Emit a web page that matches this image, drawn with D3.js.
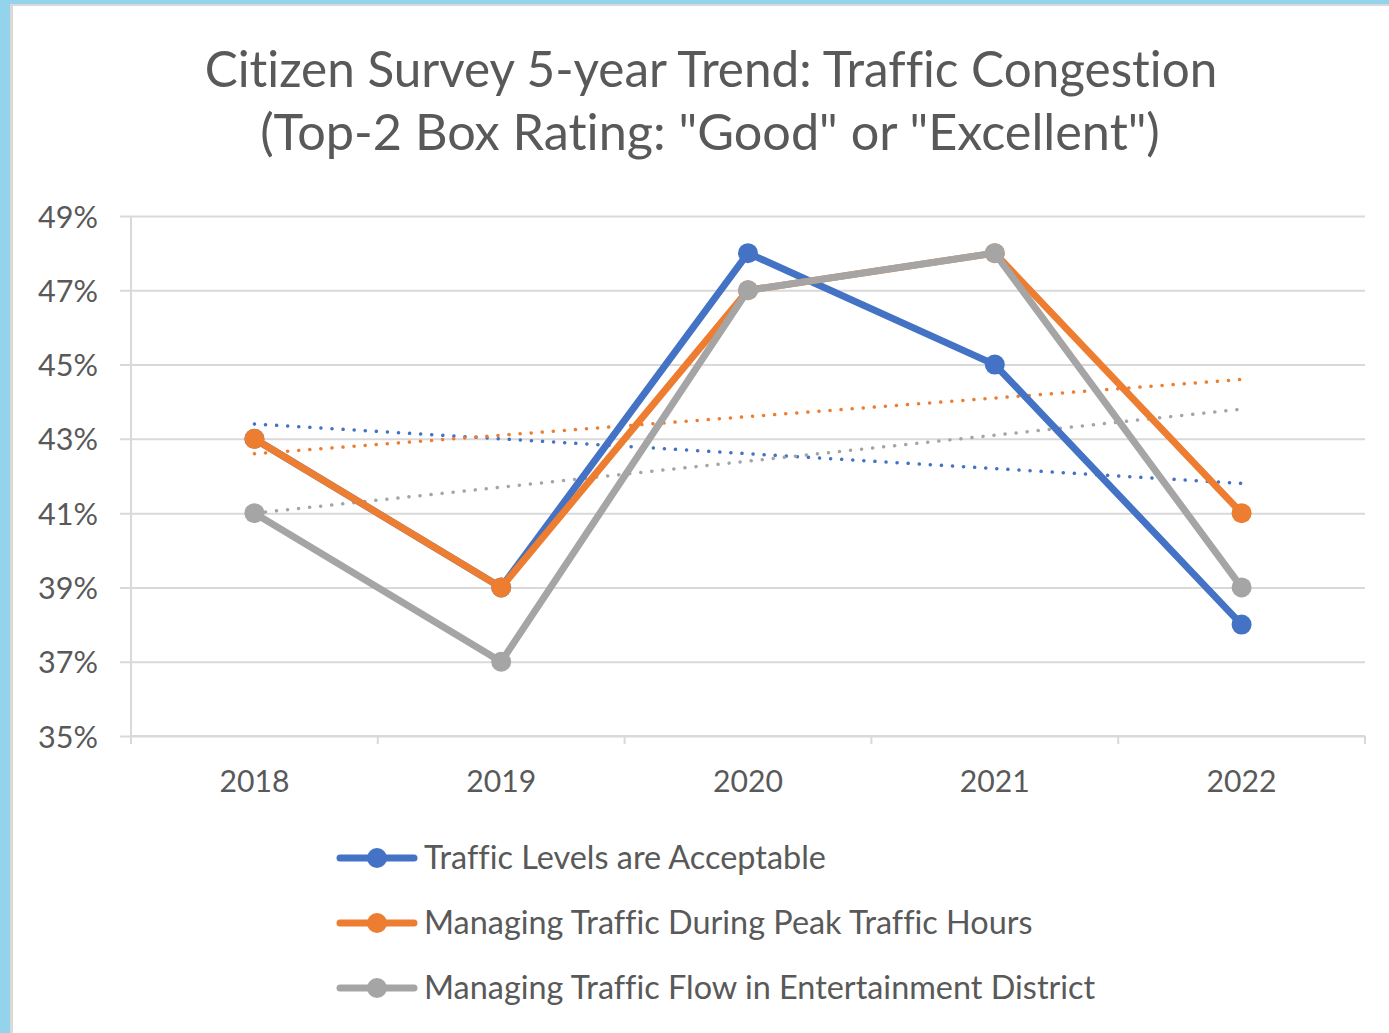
<!DOCTYPE html>
<html>
<head>
<meta charset="utf-8">
<script src="https://cdn.jsdelivr.net/npm/d3@7"></script>
<style>
  body { margin: 0; background: #fff; }
  svg text { font-family: Lato, "Open Sans", sans-serif; fill: #595959; font-variant-ligatures: none; font-feature-settings: "liga" 0; }
</style>
</head>
<body>
<svg width="1389" height="1033"></svg>
<script>
// chart data
const years = ['2018', '2019', '2020', '2021', '2022']
const seriesNames = [
  'Traffic Levels are Acceptable',
  'Managing Traffic During Peak Traffic Hours',
  'Managing Traffic Flow in Entertainment District'
]
const trafficLevels = [43, 39, 48, 45, 38]
const peakHours = [43, 39, 47, 48, 41]
const entertainment = [41, 37, 47, 48, 39]
const yTicks = [35, 37, 39, 41, 43, 45, 47, 49]
const titleLines = [
  'Citizen Survey 5-year Trend: Traffic Congestion',
  '(Top-2 Box Rating: "Good" or "Excellent")'
]

const colors = ['#4472C4', '#ED7D31', '#A5A5A5']
const allSeries = [trafficLevels, peakHours, entertainment]

const svg = d3.select('svg')

// frame
svg.append('rect').attr('width', 1389).attr('height', 1033).attr('fill', '#94D3EC')
svg.append('rect').attr('x', 10).attr('y', 4).attr('width', 1379).attr('height', 1029).attr('fill', '#d9d9d9')
svg.append('rect').attr('x', 13).attr('y', 6).attr('width', 1376).attr('height', 1027).attr('fill', '#fff')

const plotLeft = 131, plotRight = 1365, plotTop = 216, plotBottom = 736

const x = d3.scaleBand().domain(years).range([plotLeft, plotRight])
const y = d3.scaleLinear().domain([35, 49]).range([plotBottom, plotTop])

// shrink/grow font so the text is the width we want
function fitWidth(sel, target) {
  const node = sel.node()
  const fs = parseFloat(sel.attr('font-size'))
  const w = node.getComputedTextLength()
  sel.attr('font-size', fs * target / w)
  return fs * target / w
}

// title
const t1 = svg.append('text').attr('x', 711).attr('y', 87).attr('text-anchor', 'middle')
  .attr('font-size', 40).text(titleLines[0])
fitWidth(t1, 1013)
const t2 = svg.append('text').attr('x', 710).attr('y', 150).attr('text-anchor', 'middle')
  .attr('font-size', 40).text(titleLines[1])
fitWidth(t2, 900)

// y axis with gridlines
const yAxis = svg.append('g')
  .attr('transform', `translate(120,0)`)
  .call(d3.axisLeft(y).tickValues(yTicks).tickSize(-(plotRight - 120)).tickPadding(22)
    .tickFormat(d => d + '%'))
yAxis.select('.domain').remove()
yAxis.selectAll('.tick line').attr('stroke', '#d9d9d9').attr('stroke-width', 2)
const yLabels = yAxis.selectAll('.tick text').attr('font-size', 28).attr('dy', 11)
  .style('font-family', 'Lato, sans-serif').attr('fill', '#595959')
const yfs = fitWidth(yAxis.select('.tick:last-of-type text'), 60)
yLabels.attr('font-size', yfs)

// vertical axis line
svg.append('line').attr('x1', plotLeft).attr('x2', plotLeft).attr('y1', plotTop).attr('y2', plotBottom + 8)
  .attr('stroke', '#d9d9d9').attr('stroke-width', 2)

// x axis
const xAxis = svg.append('g')
  .attr('transform', `translate(0,${plotBottom})`)
  .call(d3.axisBottom(x).tickSize(0).tickPadding(0))
xAxis.select('.domain').remove()
const xLabels = xAxis.selectAll('.tick text').attr('y', 56).attr('dy', 0)
  .attr('font-size', 28).style('font-family', 'Lato, sans-serif').attr('fill', '#595959')
const xfs = fitWidth(xAxis.select('.tick text'), 70)
xLabels.attr('font-size', xfs)

svg.append('line').attr('x1', plotLeft).attr('x2', plotRight).attr('y1', plotBottom).attr('y2', plotBottom)
  .attr('stroke', '#d9d9d9').attr('stroke-width', 2)
svg.selectAll('.xtick').data(d3.range(years.length + 1)).enter()
  .append('line')
    .attr('x1', i => plotLeft + i * x.step()).attr('x2', i => plotLeft + i * x.step())
    .attr('y1', plotBottom).attr('y2', plotBottom + 8)
    .attr('stroke', '#d9d9d9').attr('stroke-width', 2)

const cx = d => x(d) + x.bandwidth() / 2

// linear trend (like excel's trendline)
function trend(values) {
  const n = values.length
  const xs = d3.range(n)
  const mx = d3.mean(xs), my = d3.mean(values)
  const slope = d3.sum(xs, i => (i - mx) * (values[i] - my)) / d3.sum(xs, i => (i - mx) ** 2)
  return xs.map(i => my + slope * (i - mx))
}

const line = d3.line().x((d, i) => cx(years[i])).y(d => y(d))

// trendlines
allSeries.forEach((s, k) => {
  svg.append('path')
    .attr('d', line(trend(s)))
    .attr('fill', 'none')
    .attr('stroke', colors[k])
    .attr('stroke-width', 3.5)
    .attr('stroke-linecap', 'round')
    .attr('stroke-dasharray', '0.1 11')
})

// data lines + markers
allSeries.forEach((s, k) => {
  svg.append('path')
    .attr('d', line(s))
    .attr('fill', 'none')
    .attr('stroke', colors[k])
    .attr('stroke-width', 7)
    .attr('stroke-linejoin', 'round')
  svg.selectAll('.m' + k).data(s).enter()
    .append('circle')
      .attr('cx', (d, i) => cx(years[i]))
      .attr('cy', d => y(d))
      .attr('r', 10)
      .attr('fill', colors[k])
})

// legend
const legend = svg.selectAll('.legend').data(seriesNames).enter()
  .append('g')
    .attr('transform', (d, i) => `translate(0,${858 + i * 65})`)
legend.append('line').attr('x1', 340).attr('x2', 414).attr('y1', 0).attr('y2', 0)
  .attr('stroke', (d, i) => colors[i]).attr('stroke-width', 7).attr('stroke-linecap', 'round')
legend.append('circle').attr('cx', 377).attr('cy', 0).attr('r', 10).attr('fill', (d, i) => colors[i])
const legendText = legend.append('text').attr('x', 424).attr('y', 11).attr('font-size', 28).text(d => d)
const lfs = fitWidth(d3.select(legendText.nodes()[0]), 402)
legendText.attr('font-size', lfs)
</script>
</body>
</html>
